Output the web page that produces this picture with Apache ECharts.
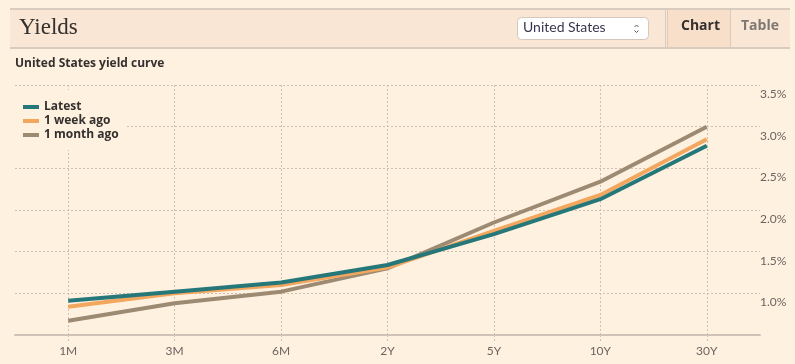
<!DOCTYPE html>
<html>
<head>
<meta charset="utf-8">
<script src="https://cdn.jsdelivr.net/npm/echarts@6/dist/echarts.min.js"></script>
<style>
html,body{margin:0;padding:0;background:#fff1e0;}
#c{width:795px;height:364px;}
</style>
</head>
<body>
<div id="c"></div>
<script>
const categories = ['1M', '3M', '6M', '2Y', '5Y', '10Y', '30Y'];
const latest = [0.91, 1.02, 1.13, 1.34, 1.71, 2.13, 2.77];
const weekAgo = [0.84, 1.00, 1.10, 1.31, 1.75, 2.18, 2.85];
const monthAgo = [0.67, 0.88, 1.02, 1.30, 1.85, 2.34, 3.00];
const seriesNames = ['Latest', '1 week ago', '1 month ago'];
const yTicks = [0.5, 1.0, 1.5, 2.0, 2.5, 3.0, 3.5];

const SANS = 'Lato, "Open Sans", sans-serif';
const BOLD = '"Open Sans", Lato, sans-serif';
const chart = echarts.init(document.getElementById('c'));
const gridColor = '#cdbfb1';

chart.setOption({
  backgroundColor: '#fff1e0',
  animation: false,
  graphic: [
    { type: 'rect', silent: true, shape: { x: 10, y: 8, width: 780, height: 41 }, style: { fill: '#f9e6d4' }, z: 0 },
    { type: 'rect', silent: true, shape: { x: 10, y: 8, width: 780, height: 2 }, style: { fill: '#d9cbbd' } },
    { type: 'rect', silent: true, shape: { x: 10, y: 47, width: 780, height: 2 }, style: { fill: '#d9cbbd' } },
    { type: 'text', left: 19, top: 16, style: { text: 'Yields', font: '23px "Liberation Serif", serif', fill: '#33302e' } },
    { type: 'rect', shape: { x: 517.5, y: 17.5, width: 131, height: 22, r: 4 }, style: { fill: '#ffffff', stroke: '#d4c8bc', lineWidth: 1 } },
    { type: 'text', left: 523, top: 20, style: { text: 'United States', font: '14px ' + SANS, fill: '#3b3650' } },
    { type: 'polyline', shape: { points: [[634.5, 27], [636.5, 25], [638.5, 27]] }, style: { stroke: '#555', lineWidth: 1, fill: null } },
    { type: 'polyline', shape: { points: [[634.5, 30.5], [636.5, 32.5], [638.5, 30.5]] }, style: { stroke: '#555', lineWidth: 1, fill: null } },
    { type: 'rect', silent: true, shape: { x: 668, y: 10, width: 62, height: 37 }, style: { fill: '#f8dfc9' } },
    { type: 'rect', silent: true, shape: { x: 665, y: 10, width: 1, height: 37 }, style: { fill: '#d9cbbd' } },
    { type: 'rect', silent: true, shape: { x: 667, y: 10, width: 1, height: 37 }, style: { fill: '#d9cbbd' } },
    { type: 'rect', silent: true, shape: { x: 730, y: 10, width: 1, height: 37 }, style: { fill: '#d9cbbd' } },
    { type: 'text', left: 681, top: 19, style: { text: 'Chart', font: 'bold 14px ' + BOLD, fill: '#33302e' } },
    { type: 'text', left: 741, top: 19, style: { text: 'Table', font: 'bold 14px ' + BOLD, fill: '#7f7872' } },
    { type: 'text', left: 15, top: 58, style: { text: 'United States yield curve', font: 'bold 12px ' + BOLD, fill: '#33302e' } }
  ],
  grid: { left: 15, right: 35, top: 85, bottom: 29, containLabel: false },
  legend: {
    data: seriesNames,
    orient: 'vertical',
    left: 15,
    top: 90,
    padding: [11, 8, 9, 8],
    itemGap: 2,
    itemWidth: 16,
    itemHeight: 4,
    icon: 'rect',
    backgroundColor: '#fff1e0',
    textStyle: { fontFamily: BOLD, fontWeight: 'bold', fontSize: 12, lineHeight: 12, color: '#33302e' },
    selectedMode: false
  },
  xAxis: {
    type: 'category',
    data: categories,
    boundaryGap: true,
    axisLine: { lineStyle: { color: '#cec3b6', width: 2 } },
    axisTick: { show: true, alignWithLabel: true, length: 6, lineStyle: { color: gridColor, type: [2, 2] } },
    axisLabel: { color: '#6b6460', fontSize: 12, fontFamily: SANS, margin: 10 },
    splitLine: { show: true, alignWithLabel: true, lineStyle: { color: gridColor, type: [2, 2], width: 1 } }
  },
  yAxis: {
    type: 'value',
    position: 'right',
    min: yTicks[0],
    max: yTicks[yTicks.length - 1],
    interval: 0.5,
    axisLine: { show: false },
    axisTick: { show: false },
    axisLabel: {
      margin: 0,
      color: '#6b6460',
      fontSize: 12,
      fontFamily: SANS,
      align: 'left',
      verticalAlign: 'top',
      padding: [3, 0, 0, 0],
      formatter: function (v) { return v <= yTicks[0] + 1e-9 ? '' : v.toFixed(1) + '%'; }
    },
    splitLine: { show: true, lineStyle: { color: gridColor, type: [2, 2], width: 1 } }
  },
  series: [
    { name: '1 month ago', type: 'line', data: monthAgo, showSymbol: false, symbol: 'none', itemStyle: { color: '#9c8a73' }, lineStyle: { width: 4, color: '#9c8a73' }, z: 2 },
    { name: '1 week ago', type: 'line', data: weekAgo, showSymbol: false, symbol: 'none', itemStyle: { color: '#f2a65e' }, lineStyle: { width: 4, color: '#f2a65e' }, z: 3 },
    { name: 'Latest', type: 'line', data: latest, showSymbol: false, symbol: 'none', itemStyle: { color: '#25777a' }, lineStyle: { width: 4, color: '#25777a' }, z: 4 }
  ]
});
</script>
</body>
</html>
